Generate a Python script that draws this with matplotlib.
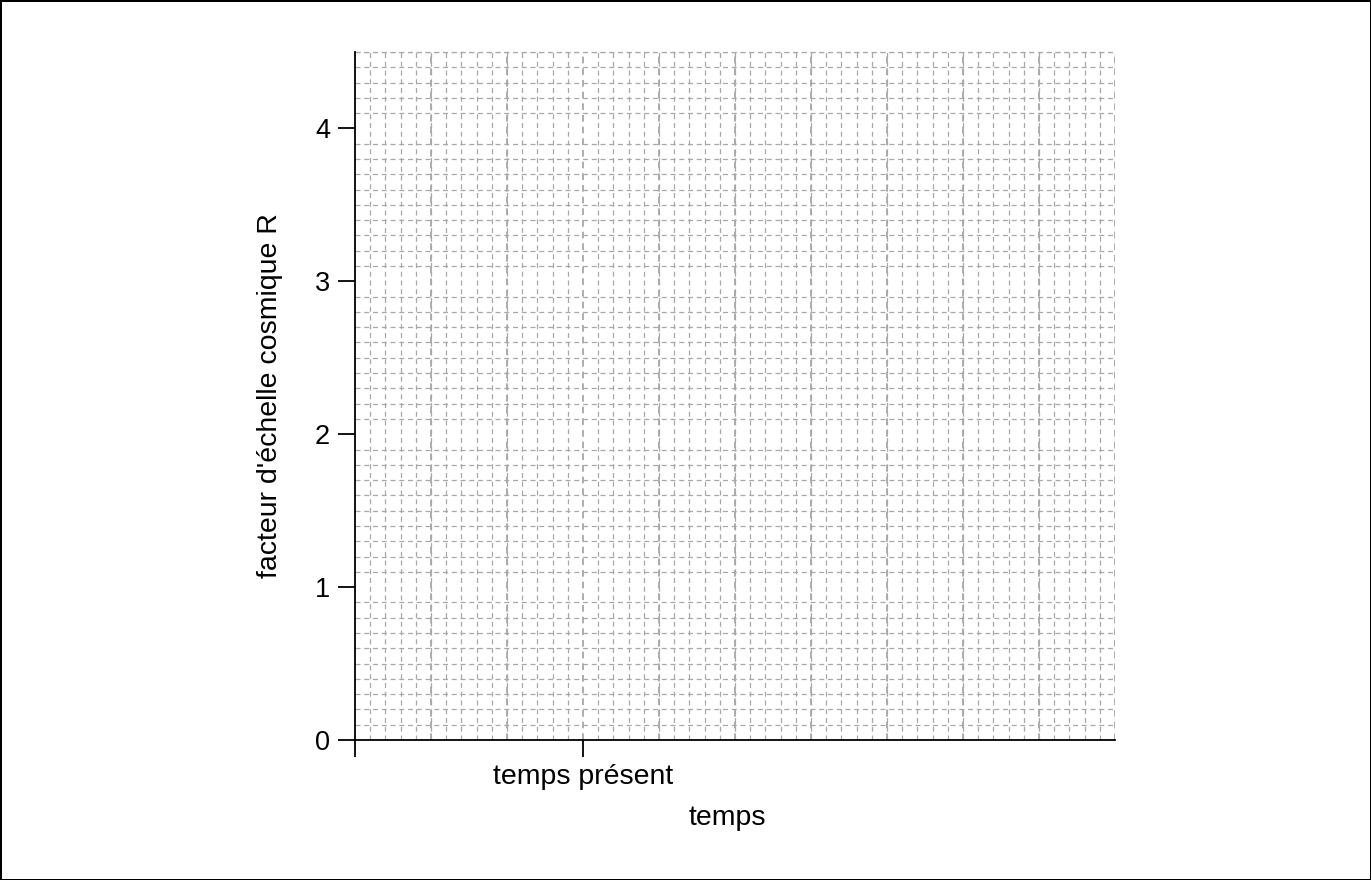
import matplotlib.pyplot as plt
from matplotlib.ticker import MultipleLocator
import numpy as np

plt.rcParams['font.family'] = ['Liberation Sans', 'DejaVu Sans']

# axis ranges and ticks
x_range = [0, 10]
y_range = [0, 4.5]
y_ticks = [0, 1, 2, 3, 4]
x_ticks = [0, 3]
x_tick_labels = ['', 'temps présent']

fig = plt.figure(figsize=(13.71, 8.8), dpi=100)
fig.patch.set_edgecolor('black')
fig.patch.set_linewidth(2)
ax = fig.add_axes([0.2589, 0.1591, 0.8133 - 0.2589, 0.9409 - 0.1591])

ax.set_xlim(x_range)
ax.set_ylim(y_range)

# fine grid
ax.xaxis.set_minor_locator(MultipleLocator(0.2))
ax.yaxis.set_minor_locator(MultipleLocator(0.1))
ax.grid(which='minor', color='#a8a8a8', linestyle=(0, (4, 3)), linewidth=0.9)
ax.vlines(np.arange(1, x_range[1] + 1), y_range[0], y_range[1],
          colors='#a0a0a0', linestyles=(0, (4, 3)), linewidth=1.2, zorder=0.5)
ax.hlines([y_range[1]], x_range[0], x_range[1], colors='#a8a8a8',
          linestyles=(0, (4, 3)), linewidth=0.9, clip_on=False)
ax.tick_params(which='minor', length=0)

ax.set_yticks(y_ticks)
ax.set_xticks(x_ticks)
ax.set_xticklabels(x_tick_labels)
ax.tick_params(which='major', length=12, width=1.3, pad=5)
ax.tick_params(axis='y', labelsize=19.5, pad=6)
ax.tick_params(axis='x', labelsize=20.5)

ax.spines['top'].set_visible(False)
ax.spines['right'].set_visible(False)
ax.spines['left'].set_linewidth(1.3)
ax.spines['bottom'].set_linewidth(1.3)

ax.set_ylabel("facteur d'échelle cosmique R", fontsize=20.5)
ax.yaxis.set_label_coords(-0.095, 0.5)
ax.set_xlabel('temps', fontsize=20.5)
ax.xaxis.set_label_coords(0.49, -0.095)

plt.savefig('out.png', dpi=100, edgecolor=fig.get_edgecolor())
